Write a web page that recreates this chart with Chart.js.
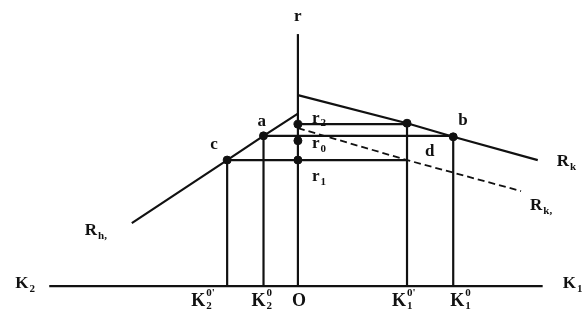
<!DOCTYPE html>
<html lang="en">
<head>
    <meta charset="UTF-8">
    <title>Capital allocation diagram</title>
    <script src="https://cdn.jsdelivr.net/npm/chart.js"></script>
    <style>
        body { margin: 0; background: #fff; }
        #chart { display: block; }
    </style>
</head>
<body>
    <canvas id="chart" width="586" height="325"></canvas>

    <script>
        // values (origin O, K axis at r = 0)
        const kTicks = [-7.2, -3.5, 0, 11.1, 15.8];
        const kTickNames = [['K', '2', "0'"], ['K', '2', '0'], ['O', '', ''], ['K', '1', "0'"], ['K', '1', '0']];
        const axisK = [-25.3, 24.9];
        const axisR = [0, 26.0];

        const rkX = [0, 11.1, 15.8, 24.4];
        const rkY = [19.7, 16.8, 15.4, 13.0];
        const rk1X = [0, 11.1, 22.7];
        const rk1Y = [16.3, 13.0, 9.8];
        const rh1X = [-16.9, -7.2, -3.5, 0];
        const rh1Y = [6.5, 13.0, 15.5, 17.8];

        const rLevels = [16.7, 15.0, 13.0];       // r2, r0, r1 on the r axis
        const rNames = [['r', '2'], ['r', '0'], ['r', '1']];
        const abLevel = 15.5;

        const pts = [
            { name: 'a', x: -3.5, y: 15.5 },
            { name: 'b', x: 15.8, y: 15.4 },
            { name: 'c', x: -7.2, y: 13.0 },
            { name: 'd', x: 11.1, y: 13.0 },
            { name: '', x: 11.1, y: 16.8 }
        ];

        const line = (xs, ys) => xs.map((x, i) => ({ x: x, y: ys[i] }));
        const seg = (x1, y1, x2, y2) => [{ x: x1, y: y1 }, { x: x2, y: y2 }];

        const black = '#111';
        const segs = [
            seg(axisK[0], 0, axisK[1], 0),
            seg(0, axisR[0], 0, axisR[1]),
            seg(0, rLevels[0], 11.1, rLevels[0]),
            seg(-3.5, abLevel, 15.8, abLevel),
            seg(-7.2, rLevels[2], 11.1, rLevels[2]),
            seg(-7.2, 0, -7.2, 13.0),
            seg(-3.5, 0, -3.5, 15.5),
            seg(11.1, 0, 11.1, 16.8),
            seg(15.8, 0, 15.8, 15.4)
        ];

        const datasets = segs.map(d => ({
            data: d, showLine: true, borderColor: black, borderWidth: 2.2,
            pointRadius: 0, fill: false
        }));
        datasets.push({ data: line(rkX, rkY), showLine: true, borderColor: black, borderWidth: 2.2, pointRadius: 0 });
        datasets.push({ data: line(rh1X, rh1Y), showLine: true, borderColor: black, borderWidth: 2.2, pointRadius: 0 });
        datasets.push({ data: line(rk1X, rk1Y), showLine: true, borderColor: black, borderWidth: 1.8, borderDash: [7, 4], pointRadius: 0 });
        datasets.push({
            data: pts.filter(p => p.name !== 'd').map(p => ({ x: p.x, y: p.y }))
                .concat(rLevels.map(r => ({ x: 0, y: r }))),
            showLine: false, pointRadius: 4, backgroundColor: black, borderColor: black
        });

        function drawLabel(ctx, base, sub, sup, x, y, size) {
            ctx.font = 'bold ' + size + 'px "Liberation Serif", serif';
            ctx.fillText(base, x, y);
            const w = ctx.measureText(base).width;
            ctx.font = 'bold ' + Math.round(size * 0.62) + 'px "Liberation Serif", serif';
            if (sub) ctx.fillText(sub, x + w + 1, y + size * 0.3);
            if (sup) ctx.fillText(sup, x + w + 1, y - size * 0.45);
        }

        const labelPlugin = {
            id: 'labels',
            afterDatasetsDraw(chart) {
                const ctx = chart.ctx;
                const sx = chart.scales.x, sy = chart.scales.y;
                const px = v => sx.getPixelForValue(v);
                const py = v => sy.getPixelForValue(v);
                ctx.save();
                ctx.fillStyle = black;
                ctx.textBaseline = 'middle';
                ctx.textAlign = 'left';

                // tick names under the K axis
                const tickOff = [-36, -12, -6, -15, -3];
                kTicks.forEach((k, i) => {
                    const n = kTickNames[i];
                    drawLabel(ctx, n[0], n[1], n[2], px(k) + tickOff[i], py(0) + 15, 18);
                });
                drawLabel(ctx, 'K', '2', '', px(axisK[0]) - 34, py(0) - 2, 17);
                drawLabel(ctx, 'K', '1', '', px(axisK[1]) + 20, py(0) - 2, 17);
                drawLabel(ctx, 'r', '', '', px(0) - 4, py(axisR[1]) - 17, 17);

                // rate labels beside the r axis
                const rOff = [-6, 3, 17];
                rLevels.forEach((r, i) => {
                    drawLabel(ctx, rNames[i][0], rNames[i][1], '', px(0) + 14, py(r) + rOff[i], 17);
                });

                // point names
                const off = { a: [-6, -14], b: [5, -16], c: [-17, -15], d: [18, -8] };
                pts.forEach(p => {
                    if (!p.name) return;
                    drawLabel(ctx, p.name, '', '', px(p.x) + off[p.name][0], py(p.y) + off[p.name][1], 17);
                });

                // curve names
                drawLabel(ctx, 'R', 'k', '', px(rkX[3]) + 19, py(rkY[3]) + 2, 17);
                drawLabel(ctx, 'R', 'k,', '', px(rk1X[2]) + 9, py(rk1Y[2]) + 15, 17);
                drawLabel(ctx, 'R', 'h,', '', px(rh1X[0]) - 47, py(rh1Y[0]) + 8, 17);
                ctx.restore();
            }
        };

        new Chart(document.getElementById('chart').getContext('2d'), {
            type: 'scatter',
            data: { datasets: datasets },
            options: {
                responsive: false,
                animation: false,
                layout: { padding: 0 },
                plugins: { legend: { display: false }, tooltip: { enabled: false } },
                scales: {
                    x: { type: 'linear', min: -29.8, max: 28.8, display: false },
                    y: { type: 'linear', min: -3.5, max: 29.0, display: false }
                }
            },
            plugins: [labelPlugin]
        });
    </script>
</body>
</html>
